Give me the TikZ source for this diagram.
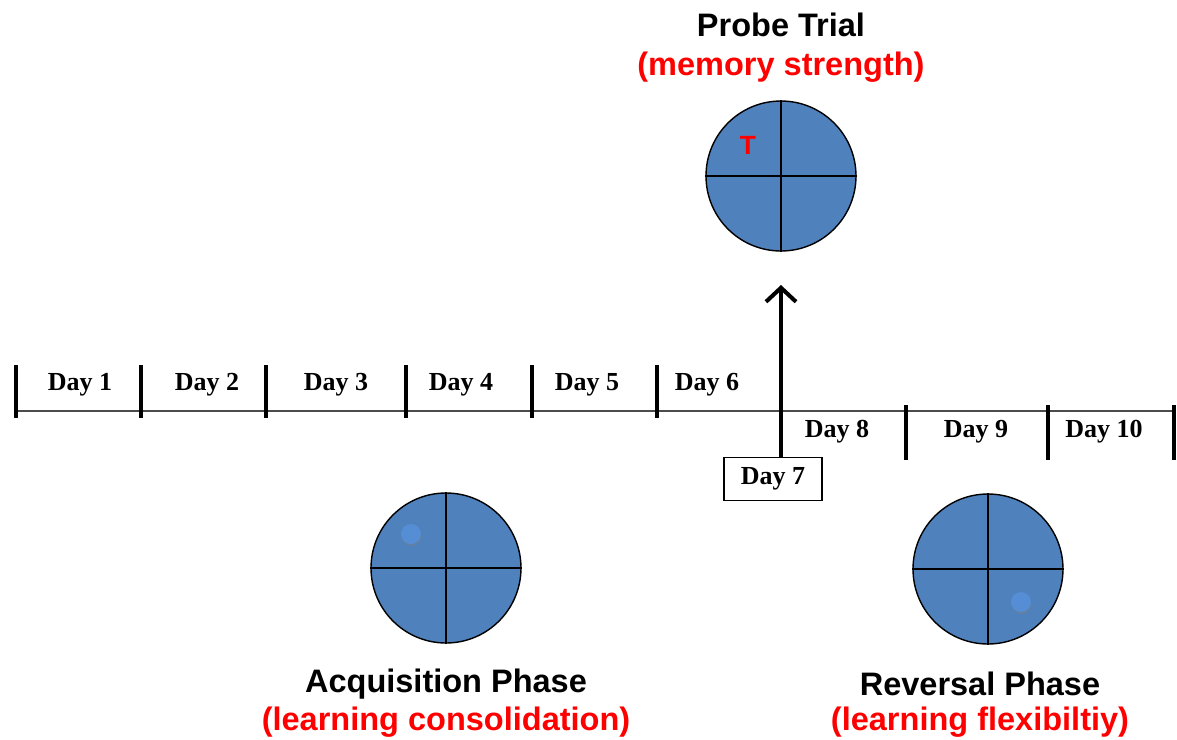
\documentclass[tikz,border=0pt]{standalone}
\usepackage{fontspec}
\setmainfont{Liberation Sans}
\newfontfamily\dayfont{Liberation Serif}
\usepackage{tikz}
\usetikzlibrary{arrows.meta,shadows}
\definecolor{poolblue}{HTML}{4F81BD}
\definecolor{platblue}{HTML}{558ED5}

\begin{document}
\begin{tikzpicture}[
        tick/.style={line width=2.3pt},
        daylbl/.style={font=\dayfont\bfseries\fontsize{14.8}{17}\selectfont, inner sep=0pt},
        head/.style={font=\bfseries\fontsize{18.5}{22}\selectfont, inner sep=0pt},
        sub/.style={head, text=red},
        pool/.style={circle, draw=black, line width=0.8pt, fill=poolblue,
              minimum size=3cm, inner sep=0pt},
        platform/.style={circle, fill=platblue, minimum size=0.4cm, inner sep=0pt,
              drop shadow={shadow xshift=0.3pt, shadow yshift=-1.2pt, opacity=0.4}},
    ]
    \useasboundingbox (0,0) rectangle (23.54,-14.8);
    % time line
    \coordinate (start) at (0.32,-8.22);
    \coordinate (end) at (23.48,-8.22);
    \draw[line width=1pt, black!70] (start) -- (end);
    % ticks before day 7
    \foreach \x in {0.32,2.82,5.32,8.12,10.64,13.14}
        \draw[tick] (\x,-7.30) -- (\x,-8.36);
    % ticks after day 7
    \foreach \x in {18.12,20.96,23.48}
        \draw[tick] (\x,-8.10) -- (\x,-9.20);
    % days
    \node[daylbl] (d1) at (1.60,-7.70) {Day 1};
    \node[daylbl] (d2) at (4.14,-7.70) {Day 2};
    \node[daylbl] (d3) at (6.72,-7.70) {Day 3};
    \node[daylbl] (d4) at (9.22,-7.70) {Day 4};
    \node[daylbl] (d5) at (11.74,-7.70) {Day 5};
    \node[daylbl] (d6) at (14.14,-7.70) {Day 6};
    \node[daylbl] (d8) at (16.74,-8.64) {Day 8};
    \node[daylbl] (d9) at (19.52,-8.64) {Day 9};
    \node[daylbl] (d10) at (22.08,-8.64) {Day 10};
    % Day 7
    \node[daylbl, draw, line width=0.8pt, minimum width=1.96cm, minimum height=0.86cm]
        (d7) at (15.46,-9.58) {Day 7};
    \coordinate (probetip) at (15.62,-5.70);
    \draw[line width=2.3pt, -{Straight Barb[length=2.8mm, width=6mm, line width=2.3pt]}]
        (probetip |- d7.north) -- (probetip);
    % probe trial
    \node[pool] (probe) at (15.62,-3.52) {};
    \draw[line width=0.8pt] (probe.north) -- (probe.south) (probe.west) -- (probe.east);
    \node[font=\bfseries\fontsize{15}{18}\selectfont, text=red] (target) at (14.96,-2.90) {T};
    \node[head] (probettl) at (15.62,-0.50) {Probe Trial};
    \node[sub] (probesub) at (15.62,-1.34) {(memory strength)};
    % acquisition
    \node[pool] (acq) at (8.92,-11.36) {};
    \draw[line width=0.8pt] (acq.north) -- (acq.south) (acq.west) -- (acq.east);
    \node[platform] (acqplat) at (8.22,-10.68) {};
    \node[head] (acqttl) at (8.92,-13.68) {Acquisition Phase};
    \node[sub] (acqsub) at (8.92,-14.44) {(learning consolidation)};
    % reversal
    \node[pool] (rev) at (19.76,-11.38) {};
    \draw[line width=0.8pt] (rev.north) -- (rev.south) (rev.west) -- (rev.east);
    \node[platform] (revplat) at (20.42,-12.04) {};
    \node[head] (revttl) at (19.60,-13.68) {Reversal Phase};
    \node[sub] (revsub) at (19.60,-14.44) {(learning flexibiltiy)};
\end{tikzpicture}
\end{document}
